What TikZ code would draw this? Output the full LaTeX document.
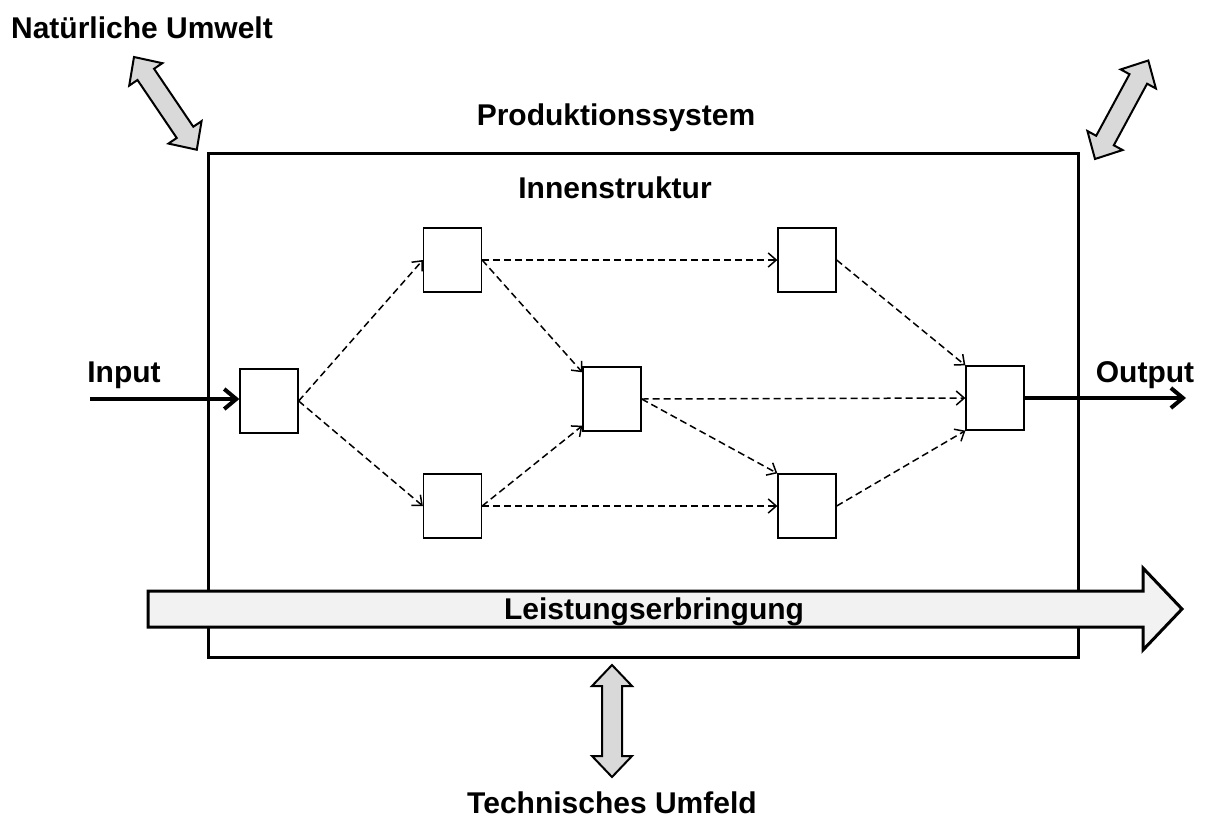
\documentclass[tikz,border=0pt]{standalone}
\usepackage{fontspec}
\setmainfont{Liberation Sans}
\usetikzlibrary{arrows.meta,calc}
\begin{document}
\begin{tikzpicture}[x=1pt,y=-1pt,
  lbl/.style={font=\bfseries\fontsize{30}{36}\selectfont, inner sep=0pt, anchor=base},
  blk/.style={draw, line width=1.3pt, minimum width=58pt, minimum height=64pt, inner sep=0pt, fill=white},
  flow/.style={line width=1.5pt, dash pattern=on 7pt off 4pt, -{Straight Barb[length=8pt,width=14pt]}},
  io/.style={line width=4pt, -{Straight Barb[length=12pt,width=20pt]}},
  garrow/.style={draw, line width=2pt, fill=gray!30, line join=miter},
  bigarrow/.style={draw, line width=3pt, fill=gray!10, line join=miter},
]
\useasboundingbox (0,0) rectangle (1206,817);

% double arrows (environment exchange)
\newcommand\dblarrow[2]{% shift, angle ; length 112
  \begin{scope}[shift={#1}, rotate=#2]
    \draw[garrow] (0,0) -- (21,20) -- (21,10) -- (91,10) -- (91,20) -- (112,0)
      -- (91,-20) -- (91,-10) -- (21,-10) -- (21,-20) -- cycle;
  \end{scope}}
\dblarrow{(134,57)}{-55.9}
\dblarrow{(1095,159)}{61.6}
\dblarrow{(612,665)}{-90}

% system boundary
\node[draw, line width=3pt, minimum width=870pt, minimum height=504pt, inner sep=0pt] (sys) at (643,405) {};

% labels
\node[lbl] (nu) at (142,38) {Natürliche Umwelt};
\node[lbl] (ps) at (616,125) {Produktionssystem};
\node[lbl] (is) at (615,198) {Innenstruktur};
\node[lbl] (in) at (124,382) {Input};
\node[lbl] (out) at (1145,382) {Output};
\node[lbl] (tu) at (612,813) {Technisches Umfeld};

% blocks
\node[blk] (b1) at (269,401) {};
\node[blk] (b2) at (452.5,260) {};
\node[blk] (b4) at (452.5,506) {};
\node[blk] (b3) at (612,399) {};
\node[blk] (b5) at (807,260) {};
\node[blk] (b6) at (807,506) {};
\node[blk] (b7) at (995,398) {};

% flows
\draw[flow] (b1.east) -- (b2.west);
\draw[flow] (b1.east) -- (b4.west);
\draw[flow] (b2.east) -- (b5.west);
\draw[flow] (b2.east) -- (b3.138);
\draw[flow] (b4.east) -- (b3.222);
\draw[flow] (b4.east) -- (b6.west);
\draw[flow] (b3.east) -- (b7.west);
\draw[flow] (b3.east) -- (b6.north west);
\draw[flow] (b5.east) -- (b7.north west);
\draw[flow] (b6.east) -- (b7.south west);

% input / output
\coordinate (inS) at (90,399);
\coordinate (outE) at (1186,398);
\draw[io] (inS) -- (b1.west |- inS);
\draw[io] (b7.east) -- (outE);

% performance arrow
\draw[bigarrow] (148,591) -- (1143,591) -- (1143,568) -- (1182,609) -- (1143,650)
  -- (1143,627) -- (148,627) -- cycle;
\node[lbl] (le) at (654,619) {Leistungserbringung};
\end{tikzpicture}
\end{document}
